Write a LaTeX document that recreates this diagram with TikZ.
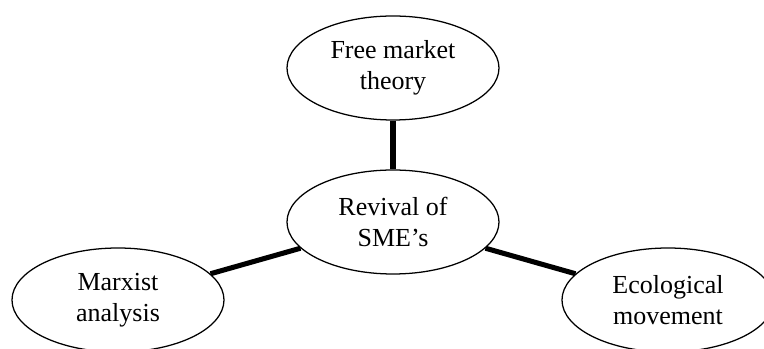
\documentclass[tikz,border=0pt]{standalone}
\usepackage{fontspec}
\setmainfont{Liberation Serif}
\usetikzlibrary{positioning,shapes.geometric}

\begin{document}
\begin{tikzpicture}[
  node distance=3.85cm, on grid,
  idea/.style={ellipse, draw, line width=0.9pt, minimum width=5.3cm,
               minimum height=2.6cm, inner sep=0pt, align=center,
               font=\fontsize{18.5}{22}\selectfont},
  link/.style={line width=3.6pt},
]
  \useasboundingbox (-9.825,-3.175) rectangle (9.275,5.55);

  % Centre topic
  \node[idea] (sme) at (0,0) {Revival of\\SME’s};

  % Surrounding ideas
  \node[idea, above=of sme] (market) {Free market\\theory};
  \node[idea, below left=1.95cm and 6.875cm of sme] (marx) {Marxist\\analysis};
  \node[idea, below right=1.95cm and 6.875cm of sme] (eco) {Ecological\\movement};

  % Links
  \draw[link] (market) -- (sme);
  \draw[link] (sme) -- (marx);
  \draw[link] (sme) -- (eco);

\end{tikzpicture}
\end{document}
